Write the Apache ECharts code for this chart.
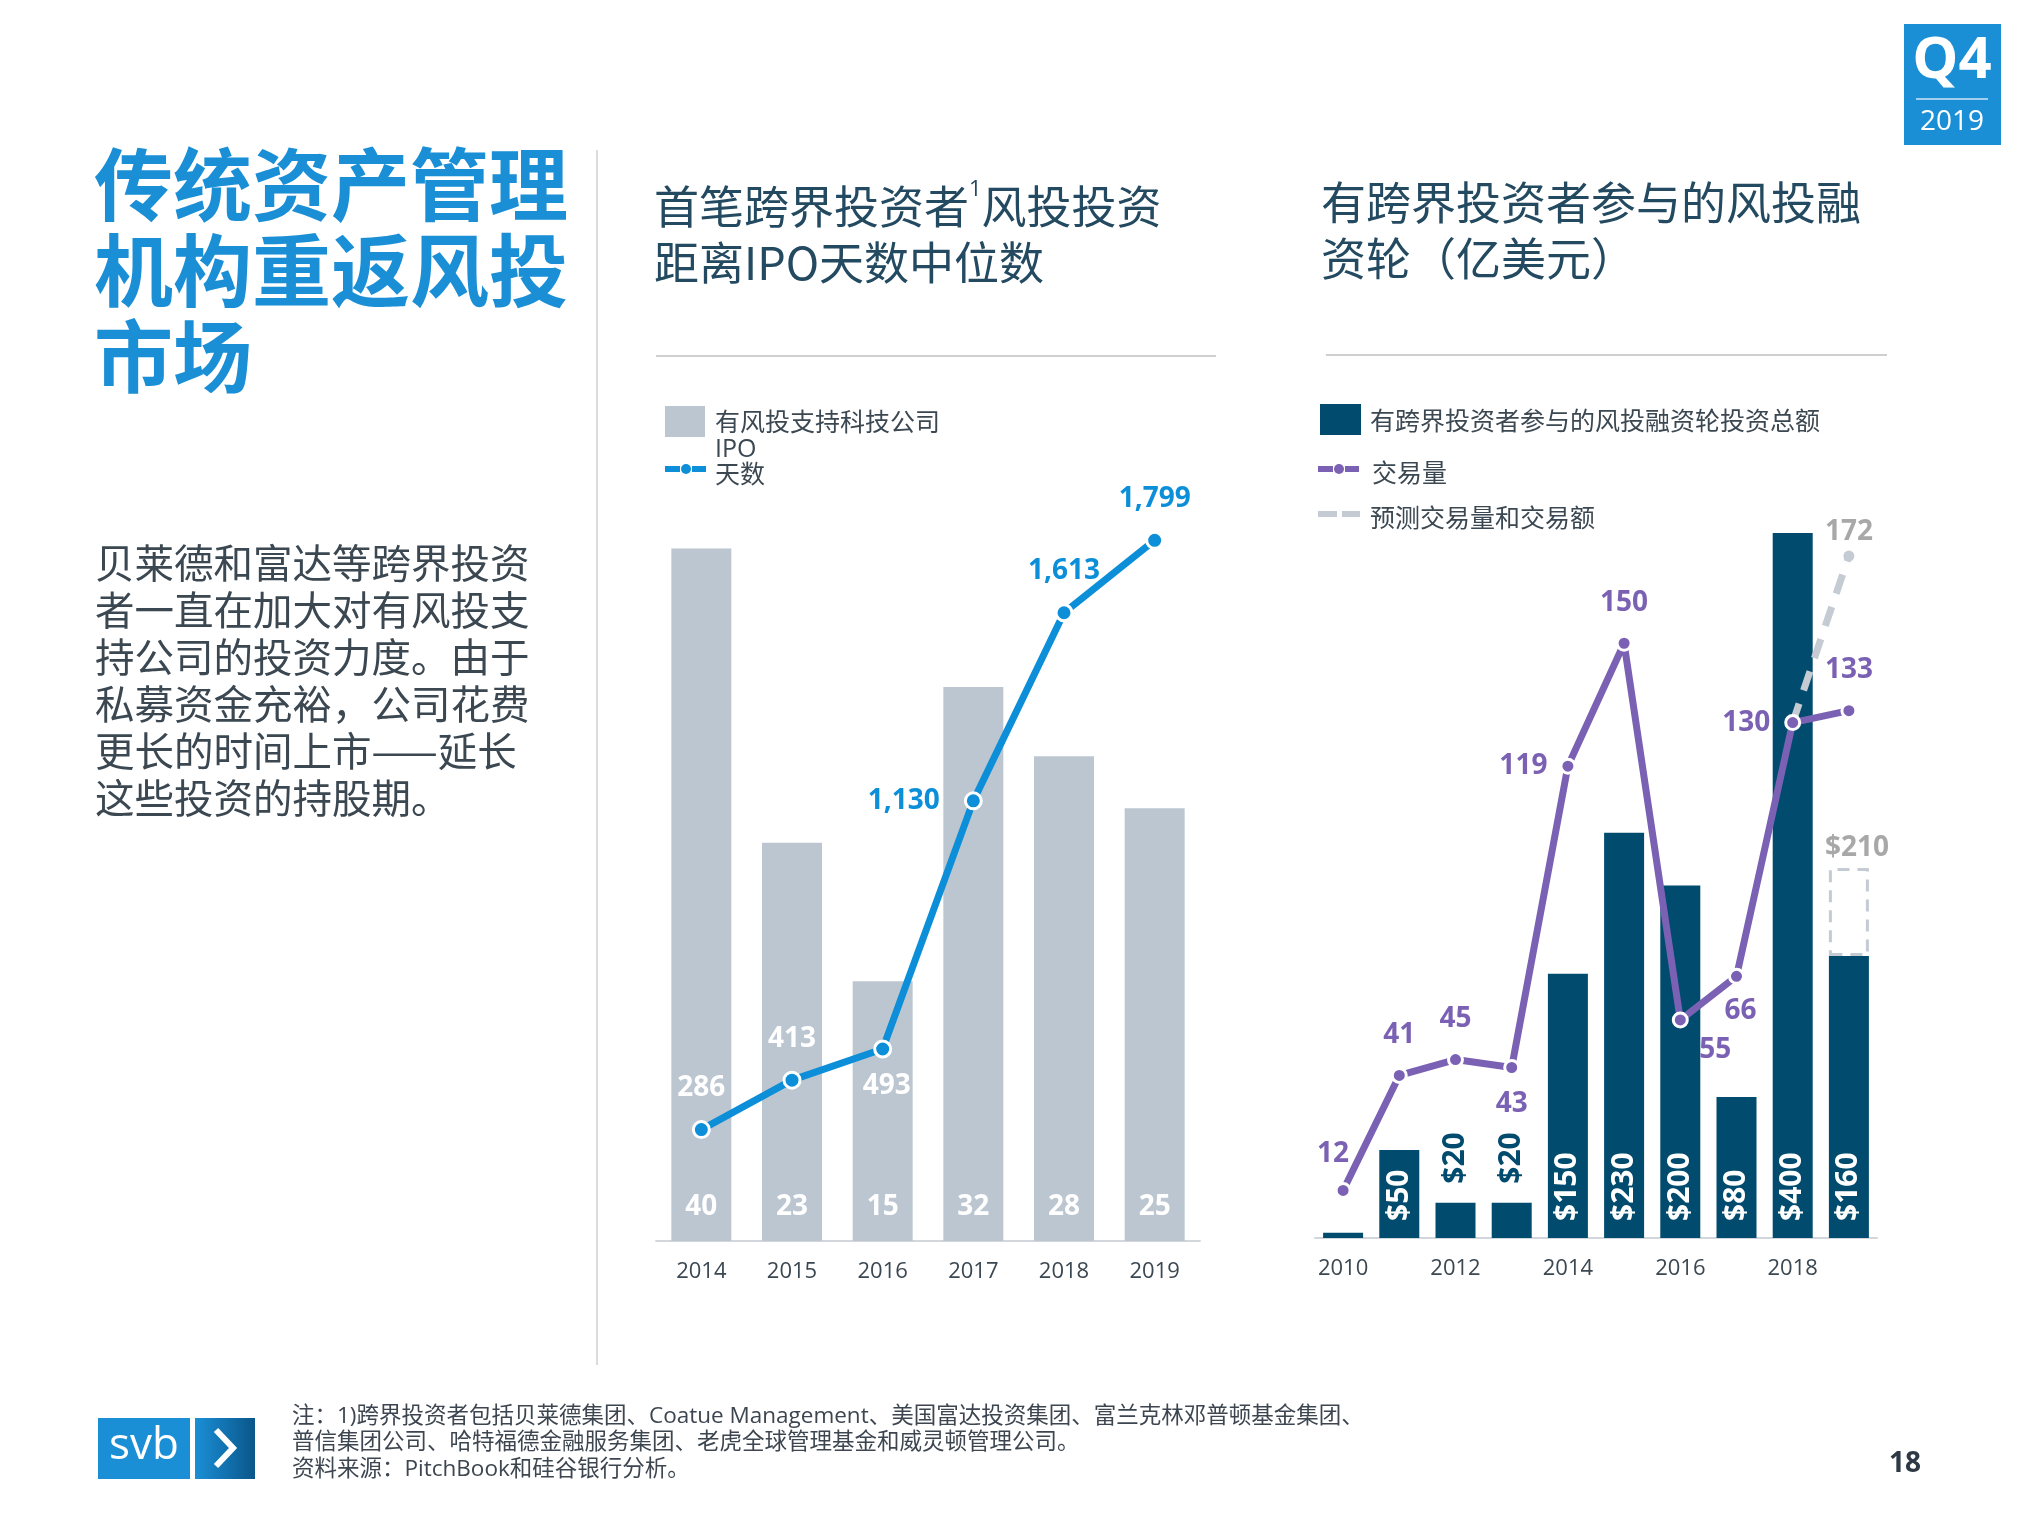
<!DOCTYPE html>
<html><head><meta charset="utf-8">
<script src="https://cdn.jsdelivr.net/npm/echarts@6/dist/echarts.min.js"></script>
<style>html,body{margin:0;padding:0;background:#fff}#c{width:2019px;height:1515px}</style>
</head><body><div id="c"></div>
<script>
// ---- data ----
const leftYears = ['2014','2015','2016','2017','2018','2019'];
const ipoCounts = [40, 23, 15, 32, 28, 25];
const ipoDays = [286, 413, 493, 1130, 1613, 1799];

const rightYears = ['2010','2011','2012','2013','2014','2015','2016','2017','2018','2019'];
const roundAmounts = [3, 50, 20, 20, 150, 230, 200, 80, 400, 160];
const amountLabels = ['', '$50', '$20', '$20', '$150', '$230', '$200', '$80', '$400', '$160'];
const dealCounts = [12, 41, 45, 43, 119, 150, 55, 66, 130, 133];
const forecastDeals = [null, null, null, null, null, null, null, null, 130, 172];
const forecastAmount2019 = 210;

const legendLeft = ['有风投支持科技公司', 'IPO天数'];
const legendRight = ['有跨界投资者参与的风投融资轮投资总额', '交易量', '预测交易量和交易额'];

// ---- styles ----
const FONT = "'Open Sans','Noto Sans CJK SC',sans-serif";
const CJK = "'Noto Sans CJK SC','Open Sans',sans-serif";
const BLUE = '#0c8fd8';
const TITLE_BLUE = '#1a8fd6';
const GREY_BAR = '#bcc6d0';
const NAVY = '#014b6e';
const PURPLE = '#7b61b3';
const FORECAST = '#c4cbd3';
const TEXT = '#3b4751';
const fmt = (v)=> Number(v).toLocaleString('en-US');

const leftDayLabelCfg = [
  {position:'top', distance:18, color:'#fff'},
  {position:'top', distance:18, color:'#fff'},
  {position:'bottom', distance:14, offset:[4,0], color:'#fff'},
  {position:'left', distance:24, color:BLUE},
  {position:'top', distance:18, color:BLUE},
  {position:'top', distance:18, color:BLUE}
];
const dealLabelCfg = [
  {position:'top', distance:14, offset:[-10,0]},
  {position:'top', distance:18},
  {position:'top', distance:18},
  {position:'bottom', distance:14},
  {position:'left', distance:12},
  {position:'top', distance:18},
  {position:'bottom', distance:8, offset:[35,0]},
  {position:'bottom', distance:12, offset:[4,0]},
  {position:'left', distance:14},
  {position:'top', distance:18}
];

const dayData = ipoDays.map((v,i)=>({value:v, label:Object.assign({show:true}, leftDayLabelCfg[i])}));
const dealData = dealCounts.map((v,i)=>({value:v, label:Object.assign({show:true}, dealLabelCfg[i])}));
const amountData = roundAmounts.map((v,i)=>{
  const txt = amountLabels[i];
  if (!txt) return {value:v, label:{show:false}};
  if (v < 40) return {value:v, label:{show:true, position:'top', distance:19, color:NAVY, formatter:txt}};
  return {value:v, label:{show:true, formatter:txt}};
});
const forecastExtra = rightYears.map((y,i)=> i === rightYears.length-1 ? forecastAmount2019 - roundAmounts[i] : null);
const forecastDealData = forecastDeals.map((v,i)=> i === forecastDeals.length-1
  ? {value:v, symbol:'circle', symbolSize:11, itemStyle:{color:FORECAST}, label:{show:true, position:'top', distance:4, color:'#a8a8a8', fontSize:28, fontWeight:'bold', fontFamily:FONT}}
  : v);

const chart = echarts.init(document.getElementById('c'), null, {renderer:'canvas'});

function lineIcon(x, y, color, dashed){
  const els = [];
  if (dashed) {
    els.push({type:'rect', shape:{x:x, y:y-3, width:19, height:6}, style:{fill:color}});
    els.push({type:'rect', shape:{x:x+24, y:y-3, width:18, height:6}, style:{fill:color}});
  } else {
    els.push({type:'rect', shape:{x:x, y:y-3, width:15, height:6}, style:{fill:color}});
    els.push({type:'rect', shape:{x:x+27, y:y-3, width:14, height:6}, style:{fill:color}});
    els.push({type:'circle', shape:{cx:x+21, cy:y, r:5}, style:{fill:color}});
  }
  return els;
}

const option = {
  backgroundColor:'#fff',
  animation:false,
  textStyle:{fontFamily:FONT},
  grid:[
    {left:656, top:462, width:544, height:779},
    {left:1315, top:445, width:562, height:793}
  ],
  xAxis:[
    {type:'category', gridIndex:0, data:leftYears, axisTick:{show:false},
     axisLine:{lineStyle:{color:'#d3d7db', width:2}},
     axisLabel:{color:TEXT, fontSize:22, margin:20, fontFamily:FONT}},
    {type:'category', gridIndex:1, data:rightYears, axisTick:{show:false},
     axisLine:{lineStyle:{color:'#d3d7db', width:2}},
     axisLabel:{color:TEXT, fontSize:22, margin:20, interval:1, fontFamily:FONT}}
  ],
  yAxis:[
    {type:'value', gridIndex:0, min:0, max:45, show:false},
    {type:'value', gridIndex:0, min:0, max:2000, show:false},
    {type:'value', gridIndex:1, min:0, max:450, show:false},
    {type:'value', gridIndex:1, min:0, max:200, show:false}
  ],
  series:[
    {name:legendLeft[0], type:'bar', xAxisIndex:0, yAxisIndex:0, data:ipoCounts, barWidth:60,
     itemStyle:{color:GREY_BAR},
     label:{show:true, position:'insideBottom', distance:20, color:'#fff', fontSize:28, fontWeight:'bold', fontFamily:FONT}},
    {name:legendLeft[1], type:'line', xAxisIndex:0, yAxisIndex:1, data:dayData,
     symbol:'circle', symbolSize:16, lineStyle:{color:BLUE, width:7},
     itemStyle:{color:BLUE, borderColor:'#fff', borderWidth:3},
     label:{fontSize:28, fontWeight:'bold', fontFamily:FONT, formatter:(p)=>fmt(p.value)}},
    {name:legendRight[0], type:'bar', xAxisIndex:1, yAxisIndex:2, stack:'amt', data:amountData, barWidth:40,
     itemStyle:{color:NAVY},
     label:{position:'insideBottom', distance:17, rotate:90, align:'left', verticalAlign:'middle', color:'#fff', fontSize:30, fontWeight:'bold', fontFamily:FONT}},
    {name:'预测额', type:'bar', xAxisIndex:1, yAxisIndex:2, stack:'amt', data:forecastExtra, barWidth:40,
     itemStyle:{color:'rgba(255,255,255,0)', borderColor:FORECAST, borderWidth:3, borderType:[12,8]},
     label:{show:true, position:'top', distance:6, offset:[8,0], color:'#a8a8a8', fontSize:28, fontWeight:'bold', fontFamily:FONT,
            formatter:(p)=> '$' + forecastAmount2019}},
    {name:legendRight[2], type:'line', xAxisIndex:1, yAxisIndex:3, data:forecastDealData,
     symbol:'none', lineStyle:{color:FORECAST, width:7, type:[20,14]}, itemStyle:{color:FORECAST}},
    {name:legendRight[1], type:'line', xAxisIndex:1, yAxisIndex:3, data:dealData,
     symbol:'circle', symbolSize:14, lineStyle:{color:PURPLE, width:7},
     itemStyle:{color:PURPLE, borderColor:'#fff', borderWidth:3},
     label:{color:PURPLE, fontSize:28, fontWeight:'bold', fontFamily:FONT}}
  ],
  graphic:[
    {type:'text', x:94, y:142, style:{text:'传统资产管理\n机构重返风投\n市场', fontSize:79, fontWeight:'bold', fontFamily:CJK, fill:TITLE_BLUE, lineHeight:86}},
    {type:'text', x:95, y:539, style:{text:'贝莱德和富达等跨界投资\n者一直在加大对有风投支\n持公司的投资力度。由于\n私募资金充裕，公司花费\n更长的时间上市——延长\n这些投资的持股期。', fontSize:39.5, fontFamily:CJK, fill:TEXT, lineHeight:47}},
    {type:'line', shape:{x1:597, y1:150, x2:597, y2:1365}, style:{stroke:'#dcdcdc', lineWidth:2}},
    {type:'text', x:654, y:179, style:{text:'首笔跨界投资者{s|1}风投投资\n距离IPO天数中位数', fontSize:45, fontFamily:CJK, fill:'#234a60', lineHeight:56,
       rich:{s:{fontSize:22, verticalAlign:'top', fill:'#234a60', fontFamily:FONT, padding:[0,0,20,0]}}}},
    {type:'text', x:1321, y:175, style:{text:'有跨界投资者参与的风投融\n资轮（亿美元）', fontSize:45, fontFamily:CJK, fill:'#234a60', lineHeight:56}},
    {type:'line', shape:{x1:656, y1:356, x2:1216, y2:356}, style:{stroke:'#cfcfcf', lineWidth:2}},
    {type:'line', shape:{x1:1326, y1:355, x2:1887, y2:355}, style:{stroke:'#cfcfcf', lineWidth:2}},
    // legends
    {type:'rect', shape:{x:665, y:406, width:40, height:31}, style:{fill:GREY_BAR}},
    {type:'text', x:715, y:421, style:{text:legendLeft[0], fontSize:25, fontFamily:CJK, fill:TEXT, verticalAlign:'middle'}},
    ...lineIcon(665, 469, BLUE, false),
    {type:'text', x:715, y:450, style:{text:'IPO', fontSize:25, fontFamily:FONT, fill:TEXT, verticalAlign:'middle'}},
    {type:'text', x:715, y:473, style:{text:'天数', fontSize:25, fontFamily:CJK, fill:TEXT, verticalAlign:'middle'}},
    {type:'rect', shape:{x:1320, y:404, width:41, height:31}, style:{fill:NAVY}},
    {type:'text', x:1370, y:420, style:{text:legendRight[0], fontSize:25, fontFamily:CJK, fill:TEXT, verticalAlign:'middle'}},
    ...lineIcon(1318, 469, PURPLE, false),
    {type:'text', x:1372, y:472, style:{text:legendRight[1], fontSize:25, fontFamily:CJK, fill:TEXT, verticalAlign:'middle'}},
    ...lineIcon(1318, 514, FORECAST, true),
    {type:'text', x:1370, y:517, style:{text:legendRight[2], fontSize:25, fontFamily:CJK, fill:TEXT, verticalAlign:'middle'}},
    // Q4 badge
    {type:'rect', shape:{x:1904, y:24, width:97, height:121}, style:{fill:TITLE_BLUE}},
    {type:'text', x:1952, y:61, style:{text:'Q4', fontSize:58, fontWeight:'bold', fontFamily:"'Open Sans',sans-serif", fill:'#fff', align:'center', verticalAlign:'middle'}},
    {type:'line', shape:{x1:1916, y1:99, x2:1988, y2:99}, style:{stroke:'#cfe6f6', lineWidth:1.5}},
    {type:'text', x:1952, y:122, style:{text:'2019', fontSize:28, fontFamily:"'Open Sans',sans-serif", fill:'#fff', align:'center', verticalAlign:'middle'}},
    // svb logo
    {type:'rect', shape:{x:98, y:1418, width:92, height:61}, style:{fill:TITLE_BLUE}},
    {type:'text', x:144, y:1446, style:{text:'svb', fontSize:44, fontFamily:"'Open Sans',sans-serif", fill:'#fff', align:'center', verticalAlign:'middle'}},
    {type:'rect', shape:{x:195, y:1418, width:60, height:61}, style:{fill:new echarts.graphic.LinearGradient(0,0,1,0,[{offset:0,color:'#1a8fd6'},{offset:1,color:'#0a568a'}])}},
    {type:'polyline', shape:{points:[[216,1430],[233,1448],[216,1466]]}, style:{stroke:'#fff', lineWidth:6, fill:null}},
    // footnote
    {type:'text', x:292, y:1403, style:{text:'注：1)跨界投资者包括贝莱德集团、Coatue Management、美国富达投资集团、富兰克林邓普顿基金集团、\n普信集团公司、哈特福德金融服务集团、老虎全球管理基金和威灵顿管理公司。\n资料来源：PitchBook和硅谷银行分析。', fontSize:22.5, fontFamily:FONT, fill:'#3d4650', lineHeight:26.5}},
    {type:'text', x:1905, y:1464, style:{text:'18', fontSize:28, fontWeight:'bold', fontFamily:FONT, fill:'#2d3a45', align:'center', verticalAlign:'middle'}}
  ]
};
chart.setOption(option);
</script>
</body></html>
